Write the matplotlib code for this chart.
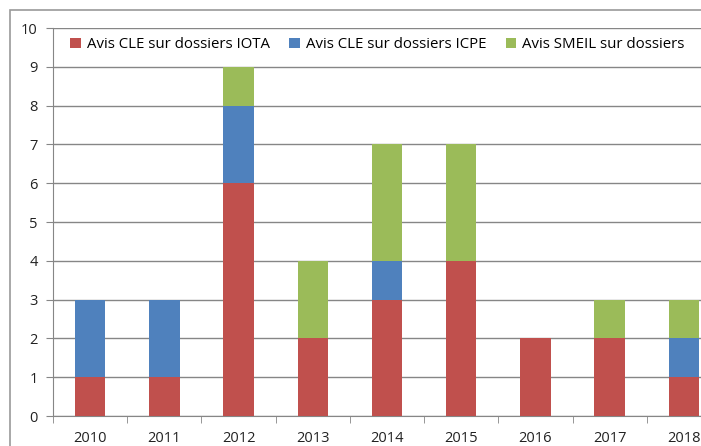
import matplotlib.pyplot as plt
from matplotlib.patches import Rectangle
import numpy as np

# Data
years = ['2010', '2011', '2012', '2013', '2014', '2015', '2016', '2017', '2018']
iota = [1, 1, 6, 2, 3, 4, 2, 2, 1]
icpe = [2, 2, 2, 0, 1, 0, 0, 0, 1]
smeil = [0, 0, 1, 2, 3, 3, 0, 1, 1]
labels = ['Avis CLE sur dossiers IOTA', 'Avis CLE sur dossiers ICPE', 'Avis SMEIL sur dossiers']
colors = ['#C0504D', '#4F81BD', '#9BBB59']

plt.rcParams['font.family'] = ['Open Sans', 'DejaVu Sans']

W, H = 701, 446
fig = plt.figure(figsize=(W / 100, H / 100), dpi=100)

# outer chart frame (partially cropped in the reference)
fig.patches.append(Rectangle((10 / W, -0.1), 1.2, 1 - 10 / H + 0.1, transform=fig.transFigure,
                             fill=False, edgecolor='#9a9a9a', linewidth=1.2))

left, right, top, bottom = 53, 721, 28, 416
ax = fig.add_axes([left / W, 1 - bottom / H, (right - left) / W, (bottom - top) / H])

x = np.arange(len(years))
b1 = np.array(iota)
b2 = b1 + np.array(icpe)
ax.bar(x, iota, width=0.41, color=colors[0], label=labels[0], zorder=3)
ax.bar(x, icpe, width=0.41, bottom=b1, color=colors[1], label=labels[1], zorder=3)
ax.bar(x, smeil, width=0.41, bottom=b2, color=colors[2], label=labels[2], zorder=3)

ax.set_xlim(-0.5, len(years) - 0.5)
ax.set_ylim(0, 10)
ax.set_yticks(range(0, 11))
ax.set_xticks(x)
ax.set_xticklabels(years)
ax.set_xticks(np.arange(-0.5, len(years), 1), minor=True)
ax.tick_params(axis='x', which='major', length=0, pad=11, labelsize=10.5, colors='#222222')
ax.tick_params(axis='x', which='minor', length=5, color='#868686')
ax.tick_params(axis='y', length=5, color='#868686', labelsize=10.5, colors='#222222', pad=6)

ax.grid(axis='y', color='#868686', linewidth=1, zorder=0)
for s in ['top', 'right']:
    ax.spines[s].set_visible(False)
ax.spines['left'].set_color('#868686')
ax.spines['bottom'].set_color('#868686')

leg = ax.legend(loc='upper left', bbox_to_anchor=(0.012, 1.0), ncol=3, frameon=True,
                fontsize=10.8, handlelength=0.7, handleheight=0.7, handletextpad=0.4,
                columnspacing=1.3, borderaxespad=0.2, facecolor='white', edgecolor='white',
                framealpha=1)
leg.set_zorder(5)

fig.savefig('out.png', dpi=100)
